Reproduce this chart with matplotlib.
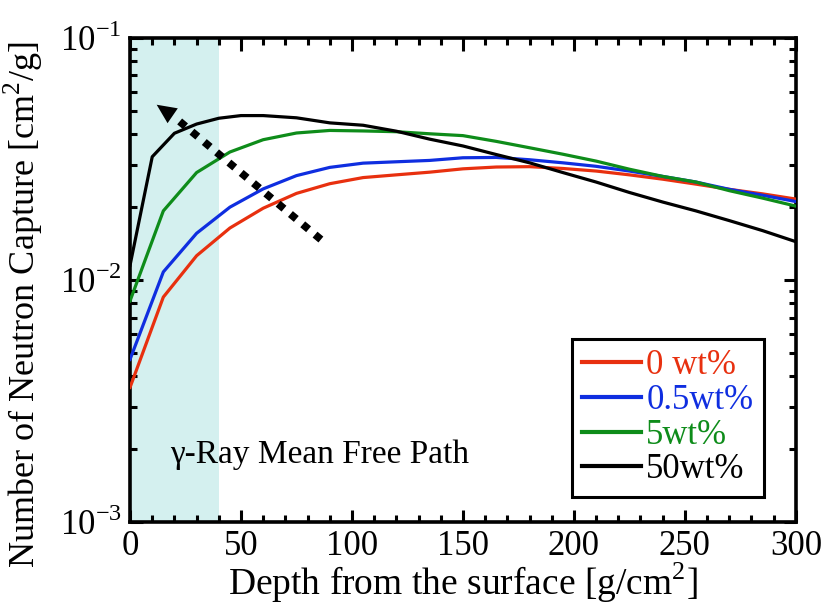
import matplotlib
matplotlib.use("Agg")
import matplotlib.pyplot as plt
from matplotlib.ticker import LogLocator, MultipleLocator, FuncFormatter, NullFormatter
import numpy as np

# depth grid [g/cm2]
depth = [0, 15, 30, 45, 60, 75, 90, 105, 120, 135, 150, 165, 180, 195, 210,
         225, 240, 255, 270, 285, 300]
depth_50 = [0, 10, 20, 30, 40, 50, 60, 75, 90, 105, 120, 135, 150, 165, 180,
            195, 210, 225, 240, 255, 270, 285, 300]

cap_0 = [0.0036, 0.0085, 0.0126, 0.0164, 0.0198, 0.0228, 0.0250, 0.0265, 0.0272,
         0.0279, 0.0288, 0.0293, 0.0294, 0.0289, 0.0282, 0.0272, 0.0261, 0.0249,
         0.0237, 0.0227, 0.0216]
cap_05 = [0.0047, 0.0108, 0.0156, 0.0200, 0.0238, 0.0270, 0.0292, 0.0304, 0.0308,
          0.0312, 0.0320, 0.0321, 0.0314, 0.0305, 0.0295, 0.0282, 0.0268, 0.0254,
          0.0237, 0.0224, 0.0211]
cap_5 = [0.0082, 0.0193, 0.0278, 0.0338, 0.0380, 0.0405, 0.0415, 0.0413, 0.0410,
         0.0402, 0.0395, 0.0374, 0.0352, 0.0331, 0.0310, 0.0287, 0.0268, 0.0254,
         0.0234, 0.0218, 0.0202]
cap_50 = [0.0115, 0.0323, 0.0404, 0.0441, 0.0466, 0.0478, 0.0478, 0.0468, 0.0446,
          0.0436, 0.0412, 0.0382, 0.0358, 0.0330, 0.0305, 0.0278, 0.0254, 0.0230,
          0.0210, 0.0193, 0.0176, 0.0160, 0.0144]

labels = ["0 wt%", "0.5wt%", "5wt%", "50wt%"]
colors = ["#e8300f", "#0f2ee0", "#0e8c1a", "black"]

mfp_depth = 40  # gamma-ray mean free path
arrow_tail = (86, 0.0147)
arrow_head = (12, 0.053)

plt.rcParams["font.family"] = ["Liberation Serif", "DejaVu Serif"]
plt.rcParams["mathtext.fontset"] = "custom"
plt.rcParams["mathtext.rm"] = "Liberation Serif"

fig = plt.figure(figsize=(8.23, 6.08), dpi=100)
ax = fig.add_axes([0.158, 0.1414, 0.809, 0.7961])

ax.axvspan(0, mfp_depth, color="#d4f0ef", lw=0, zorder=0)

series = [(depth, cap_0), (depth, cap_05), (depth, cap_5), (depth_50, cap_50)]
for (x, y), lab, c in zip(series, labels, colors):
    ax.plot(x, y, color=c, lw=2.3, label=lab, zorder=3)

# dotted arrow
ax.plot([arrow_tail[0], 22], [arrow_tail[1], 0.0455], color="black", lw=5.5,
        ls=(0, (1, 1.1)), dash_capstyle="butt", zorder=4)
ax.annotate("", xy=arrow_head, xytext=(21, 0.0465),
            arrowprops=dict(arrowstyle="-|>,head_length=1.4,head_width=0.65",
                            color="black", lw=0, shrinkA=0, shrinkB=0), zorder=4)

ax.text(18, 0.00189, "γ-Ray Mean Free Path", fontsize=24, va="center", ha="left")

ax.set_yscale("log")
ax.set_xlim(0, 300)
ax.set_ylim(1e-3, 1e-1)

ax.xaxis.set_major_locator(MultipleLocator(50))
ax.xaxis.set_minor_locator(MultipleLocator(10))
ax.yaxis.set_major_locator(LogLocator(base=10))
ax.yaxis.set_minor_locator(LogLocator(base=10, subs=np.arange(2, 10)))
ax.yaxis.set_minor_formatter(NullFormatter())
ax.yaxis.set_major_formatter(FuncFormatter(
    lambda v, p: r"$10^{%d}$" % int(round(np.log10(v)))))

ax.tick_params(which="both", direction="in", top=True, right=True,
               labelsize=25, width=2.2)
ax.tick_params(which="major", length=9, pad=6)
ax.tick_params(which="minor", length=5)
for s in ax.spines.values():
    s.set_linewidth(2.6)

ax.set_xlabel("Depth from the surface [g/cm$^2$]", fontsize=27, labelpad=-2)
ax.set_ylabel("Number of Neutron Capture [cm$^2$/g]", fontsize=26)
ax.yaxis.set_label_coords(-0.128, 0.45)

leg = ax.legend(loc="lower right", bbox_to_anchor=(0.952, 0.052), fontsize=25,
                frameon=True, fancybox=False, edgecolor="black", framealpha=1,
                handlelength=1.7, handletextpad=0.15, borderpad=0.3,
                labelspacing=0.05, borderaxespad=0)
leg.get_frame().set_linewidth(2.2)
for t, c in zip(leg.get_texts(), colors):
    t.set_color(c)
for h in leg.get_lines():
    h.set_linewidth(3)

fig.savefig("out.png", dpi=100)
